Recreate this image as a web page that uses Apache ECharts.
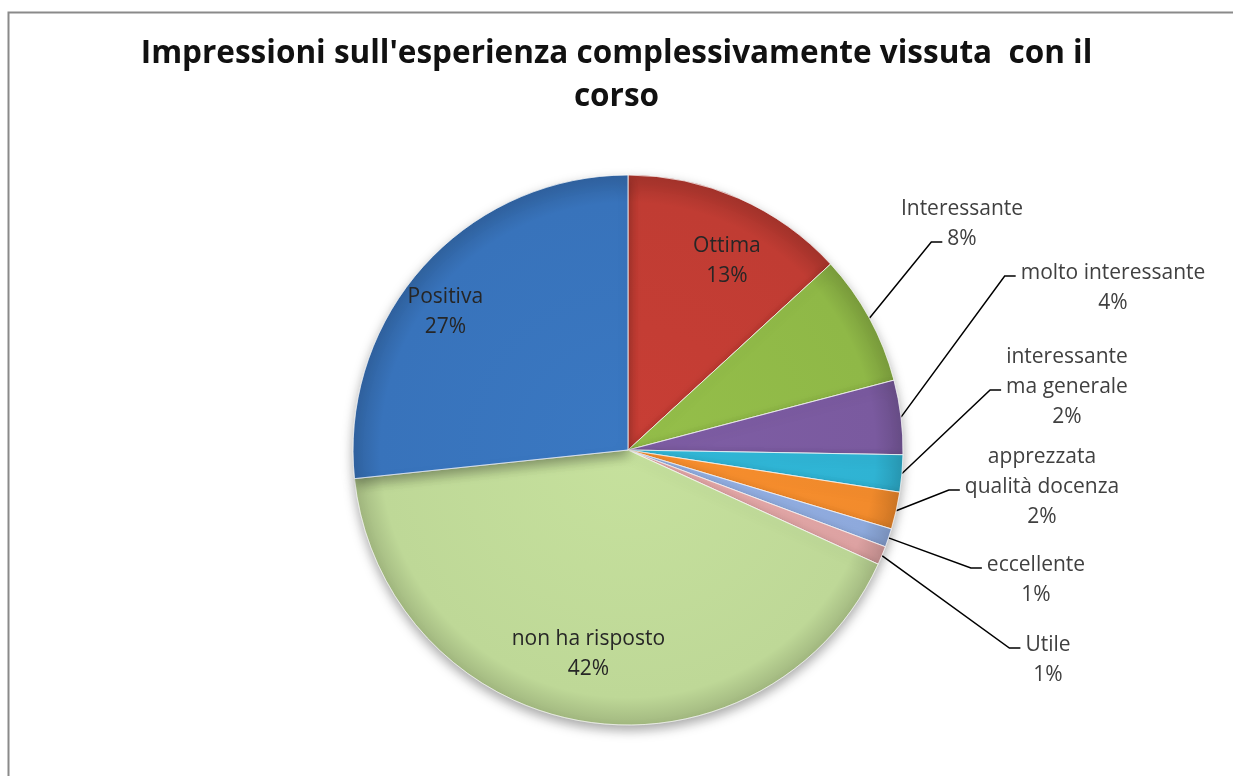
<!DOCTYPE html>
<html lang="it">
<head>
  <meta charset="UTF-8">
  <title>Impressioni sul corso</title>
  <script src="https://cdn.jsdelivr.net/npm/echarts@6/dist/echarts.min.js"></script>
  <style>
    html, body { margin: 0; padding: 0; background: #fff; }
  </style>
</head>
<body>
  <div id="main" style="width: 1233px;height:776px;"></div>
<script type="text/javascript">
  // dati (percentuali stimate dagli angoli delle fette)
  var categories = ['Ottima', 'Interessante', 'molto interessante', 'interessante\nma generale',
    'apprezzata\nqualità docenza', 'eccellente', 'Utile', 'non ha risposto', 'Positiva'];
  var values = [13.3, 7.8, 4.4, 2.2, 2.2, 1.1, 1.1, 41.9, 26.9];
  var insideLabels = ['Ottima', 'non ha risposto', 'Positiva'];

  var colors = ['#c03c33', '#8fb847', '#7a5a9f', '#2fb3d3', '#f28b2c', '#90acdf', '#e0a4a4', '#bed897', '#3873bb'];

  // testi esterni: centro x, y della riga superiore, riga a cui si aggancia la linea guida
  var outsideLabelPos = {
    'Interessante': [962, 194, 1],
    'molto interessante': [1113, 258, 0],
    'interessante\nma generale': [1067, 342, 1],
    'apprezzata\nqualità docenza': [1042, 442, 1],
    'eccellente': [1036, 550, 0],
    'Utile': [1048, 630, 0]
  };

  var pieCenter = [628, 450];
  var pieRadius = 275;
  var labelFont = 21;
  var labelLineH = 30;

  var measureCtx = document.createElement('canvas').getContext('2d');
  measureCtx.font = labelFont + 'px "Open Sans"';

  function shade(hex, f) {
    var n = parseInt(hex.slice(1), 16);
    var r = (n >> 16) & 255, g = (n >> 8) & 255, b = n & 255;
    function c(v) { return Math.max(0, Math.min(255, Math.round(v * f))); }
    return 'rgb(' + c(r) + ',' + c(g) + ',' + c(b) + ')';
  }

  var app = echarts.init(document.getElementById('main'));

  var pieData = categories.map(function (name, i) {
    var inside = insideLabels.indexOf(name) >= 0;
    return {
      name: name,
      value: values[i],
      itemStyle: {
        color: {
          type: 'radial', x: pieCenter[0], y: pieCenter[1], r: pieRadius, global: true,
          colorStops: [
            { offset: 0, color: shade(colors[i], 1.04) },
            { offset: 0.9, color: colors[i] },
            { offset: 1, color: shade(colors[i], 0.85) }
          ]
        }
      },
      label: inside ? { position: 'inside', color: '#262626' } : { position: 'outside' },
      labelLine: { show: !inside }
    };
  });

  var option = {
    textStyle: { fontFamily: 'Open Sans' },
    title: {
      text: "Impressioni sull'esperienza complessivamente vissuta  con il\ncorso",
      left: 'center',
      top: 33,
      padding: [0, 0, 0, 36],
      textStyle: {
        fontFamily: 'Open Sans',
        fontWeight: 'bold',
        fontSize: 31.5,
        lineHeight: 43,
        color: '#111'
      }
    },
    graphic: [{
      type: 'rect',
      shape: { x: 8.5, y: 12.5, width: 1240, height: 800 },
      style: { fill: 'none', stroke: '#8a8a8a', lineWidth: 2 },
      silent: true
    }],
    series: [{
      type: 'pie',
      center: pieCenter,
      radius: pieRadius,
      startAngle: 90,
      clockwise: true,
      percentPrecision: 0,
      itemStyle: {
        borderColor: 'rgba(255,255,255,0.45)',
        borderWidth: 1,
        shadowBlur: 12,
        shadowOffsetY: 5,
        shadowColor: 'rgba(0,0,0,0.35)'
      },
      label: {
        formatter: '{b}\n{d}%',
        fontFamily: 'Open Sans',
        fontSize: labelFont,
        lineHeight: labelLineH,
        color: '#404040',
        align: 'center'
      },
      labelLine: {
        length: 30,
        length2: 20,
        lineStyle: { color: '#000', width: 1.5 }
      },
      labelLayout: function (p) {
        var name = categories[p.dataIndex];
        var pos = outsideLabelPos[name];
        if (pos) {
          var lines = p.text.split('\n');
          var w = measureCtx.measureText(lines[pos[2]]).width;
          var end = [pos[0] - w / 2 - 5, pos[1] + labelLineH * pos[2] + labelLineH / 2 + 3];
          var start = p.labelLinePoints ? p.labelLinePoints[0] : end;
          return {
            x: pos[0], y: pos[1], align: 'center', verticalAlign: 'top',
            labelLinePoints: [start, [end[0] - 11, end[1]], end]
          };
        }
        // etichette interne spostate verso il bordo come in Excel
        var cx = p.labelRect.x + p.labelRect.width / 2;
        var cy = p.labelRect.y + p.labelRect.height / 2;
        return {
          x: pieCenter[0] + (cx - pieCenter[0]) * 1.75,
          y: pieCenter[1] + (cy - pieCenter[1]) * 1.47,
          align: 'center',
          verticalAlign: 'middle'
        };
      },
      data: pieData
    }]
  };

  app.setOption(option);
</script>
</body>
</html>
